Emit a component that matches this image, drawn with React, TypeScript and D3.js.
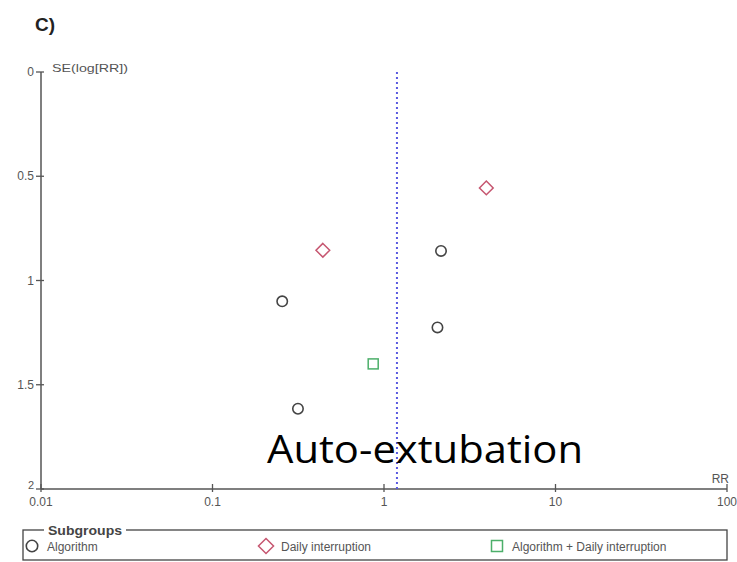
import React from "react";
import * as d3 from "d3";

const subgroups = ["Algorithm", "Daily interruption", "Algorithm + Daily interruption"];
const studyRR = [3.95, 0.44, 2.15, 0.255, 2.05, 0.865, 0.315];
const studySE = [0.556, 0.855, 0.858, 1.1, 1.225, 1.4, 1.615];
const studyGroup = [1, 1, 0, 0, 0, 2, 0];
const pooledRR = 1.19;
const xTicks = [0.01, 0.1, 1, 10, 100];
const xTickLabels = ["0.01", "0.1", "1", "10", "100"];
const yTicks = [0, 0.5, 1, 1.5, 2];
const yTickLabels = ["0", "0.5", "1", "1.5", "2"];

const W = 737;
const H = 562;

export default function App() {
  const x = d3.scaleLog().domain([0.01, 100]).range([41, 727]);
  const y = d3.scaleLinear().domain([0, 2]).range([72, 489]);
  const axisColor = "#555";
  const labelFont = "Liberation Sans, Arial, sans-serif";
  const groupColors = ["#444", "#c65670", "#4caf6a"];

  const marker = (g: number, cx: number, cy: number, key: string | number, scale = 1) => {
    if (g === 0)
      return <circle key={key} cx={cx} cy={cy} r={5.2 * scale} fill="none" stroke={groupColors[0]} strokeWidth={1.6} />;
    if (g === 1) {
      const p = d3.symbol().type(d3.symbolDiamond2).size(120 * scale * scale)();
      return (
        <path key={key} d={p || ""} transform={`translate(${cx},${cy})`} fill="none" stroke={groupColors[1]} strokeWidth={1.5} />
      );
    }
    return (
      <rect key={key} x={cx - 5 * scale} y={cy - 5 * scale} width={10 * scale} height={10 * scale} fill="none" stroke={groupColors[2]} strokeWidth={1.5} />
    );
  };

  const legendX = [32, 266, 497];

  return (
    <div style={{ position: "absolute", left: 0, top: 0 }}>
      <svg width={W} height={H} style={{ display: "block", background: "#fff" }}>
        <text x={35} y={31} fontFamily={labelFont} fontWeight="bold" fontSize={19} fill="#222">C)</text>
        {/* y axis */}
        <line x1={x(0.01)} x2={x(0.01)} y1={y(0)} y2={y(2)} stroke={axisColor} strokeWidth={1.5} />
        {yTicks.map((t, i) => (
          <g key={"yt" + i}>
            <line x1={x(0.01) - 5} x2={x(0.01) + 3} y1={y(t)} y2={y(t)} stroke={axisColor} strokeWidth={1.3} />
            <text x={x(0.01) - 7} y={y(t) + (i === yTicks.length - 1 ? 0 : 4)} textAnchor="end" fontFamily={labelFont} fontSize={i === yTicks.length - 1 ? 11 : 12} fill="#555">
              {yTickLabels[i]}
            </text>
          </g>
        ))}
        <text x={52} y={72} fontFamily={labelFont} fontSize={11.5} fill="#555" textLength={76} lengthAdjust="spacingAndGlyphs">SE(log[RR])</text>
        {/* x axis */}
        <line x1={x(0.01)} x2={x(100)} y1={y(2)} y2={y(2)} stroke={axisColor} strokeWidth={1.5} />
        {xTicks.map((t, i) => (
          <g key={"xt" + i}>
            <line x1={x(t)} x2={x(t)} y1={y(2) - 5} y2={y(2) + 3} stroke={axisColor} strokeWidth={1.3} />
            <text x={x(t)} y={y(2) + 17} textAnchor="middle" fontFamily={labelFont} fontSize={12} fill="#555">
              {xTickLabels[i]}
            </text>
          </g>
        ))}
        <text x={x(100) + 2} y={y(2) - 6} textAnchor="end" fontFamily={labelFont} fontSize={12} fill="#555">RR</text>
        {/* pooled estimate */}
        <line x1={x(pooledRR)} x2={x(pooledRR)} y1={y(0)} y2={y(2)} stroke="#5a5ae0" strokeWidth={2} strokeDasharray="2 3" />
        {/* points */}
        {studyRR.map((r, i) => marker(studyGroup[i], x(r), y(studySE[i]), "p" + i))}
        {/* caption */}
        <text x={267} y={463} fontFamily="Open Sans, sans-serif" fontSize={38} fill="#000" textLength={316} lengthAdjust="spacingAndGlyphs">
          Auto-extubation
        </text>
        {/* legend */}
        <rect x={23} y={530} width={704} height={30} fill="none" stroke="#444" strokeWidth={1.3} />
        <rect x={44} y={522} width={82} height={14} fill="#fff" />
        <text x={48} y={535} fontFamily={labelFont} fontWeight="bold" fontSize={12.5} fill="#444" textLength={74} lengthAdjust="spacingAndGlyphs">Subgroups</text>
        {subgroups.map((s, i) => (
          <g key={"lg" + i}>
            {marker(i, legendX[i], 546, "lm" + i, 1.1)}
            <text x={legendX[i] + 15} y={551} fontFamily={labelFont} fontSize={12} fill="#555">{s}</text>
          </g>
        ))}
      </svg>
    </div>
  );
}
